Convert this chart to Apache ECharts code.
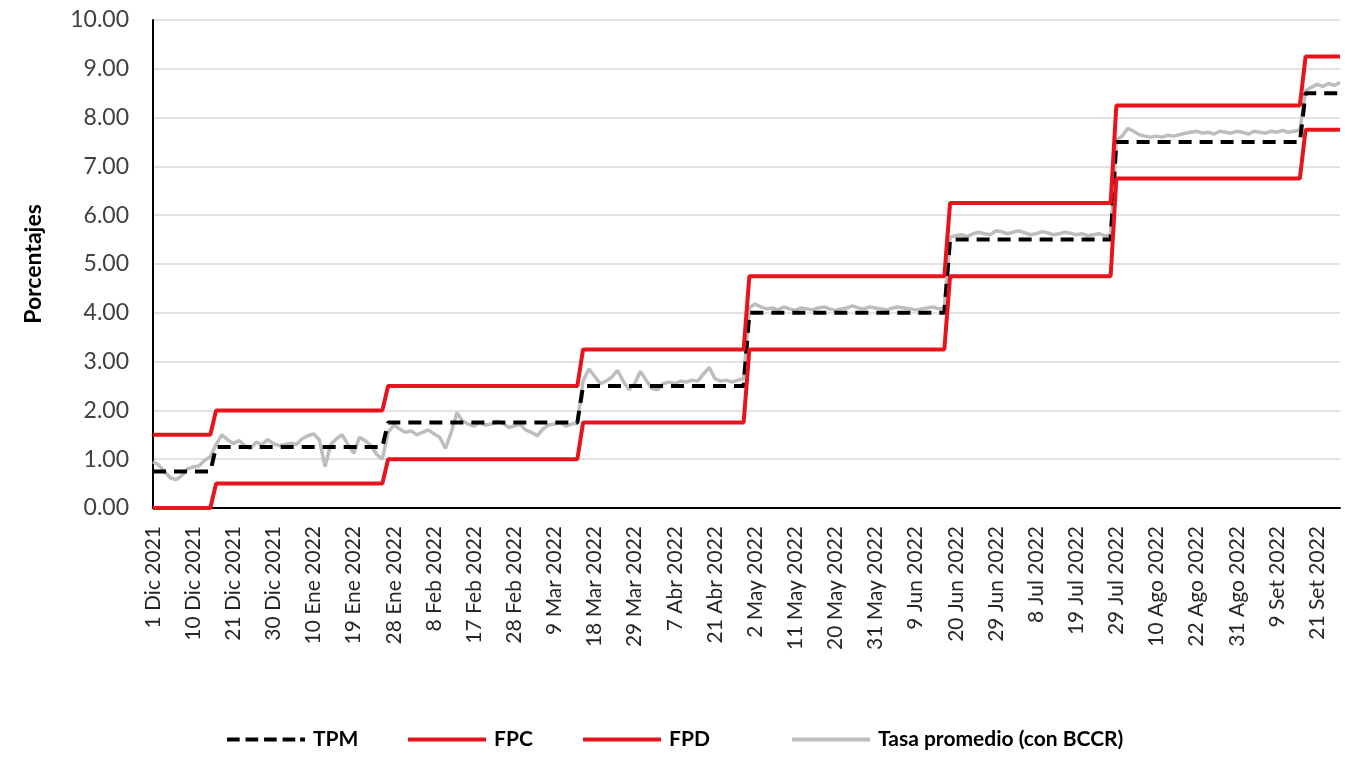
<!DOCTYPE html>
<html><head><meta charset="utf-8">
<script src="https://cdn.jsdelivr.net/npm/echarts/dist/echarts.min.js"></script>
<style>html,body{margin:0;padding:0;background:#fff}#c{width:1345px;height:761px}</style>
</head><body><div id="c"></div>
<script>
// Business days (categories) by month
const businessDays = [
  ["Dic 2021", [1,2,3,6,7,8,9,10,13,14,15,16,17,20,21,22,23,24,27,28,29,30,31]],
  ["Ene 2022", [3,4,5,6,7,10,11,12,13,14,17,18,19,20,21,24,25,26,27,28,31]],
  ["Feb 2022", [1,2,3,4,7,8,9,10,11,14,15,16,17,18,21,22,23,24,25,28]],
  ["Mar 2022", [1,2,3,4,7,8,9,10,11,14,15,16,17,18,21,22,23,24,25,28,29,30,31]],
  ["Abr 2022", [1,4,5,6,7,8,12,13,18,19,20,21,22,25,26,27,28,29]],
  ["May 2022", [2,3,4,5,6,9,10,11,12,13,16,17,18,19,20,23,24,25,26,27,30,31]],
  ["Jun 2022", [1,2,3,6,7,8,9,10,13,14,15,16,17,20,21,22,23,24,27,28,29,30]],
  ["Jul 2022", [1,4,5,6,7,8,11,12,13,14,15,18,19,20,21,22,26,27,28,29]],
  ["Ago 2022", [1,3,4,5,8,9,10,11,12,16,17,18,19,22,23,24,25,26,29,30,31]],
  ["Set 2022", [1,2,5,6,7,8,9,12,13,14,16,19,20,21,22,23,26,27]]
];
const categories = [];
businessDays.forEach(([m, days]) => days.forEach(d => categories.push(d + " " + m)));

// Policy rate regimes: start date of each level
const regimeStart = ["1 Dic 2021","16 Dic 2021","27 Ene 2022","16 Mar 2022","29 Abr 2022","17 Jun 2022","29 Jul 2022","19 Set 2022"];
const tpmLevels = [0.75, 1.25, 1.75, 2.50, 4.00, 5.50, 7.50, 8.50];
const fpcLevels = [1.50, 2.00, 2.50, 3.25, 4.75, 6.25, 8.25, 9.25];
const fpdLevels = [0.00, 0.50, 1.00, 1.75, 3.25, 4.75, 6.75, 7.75];

// Tasa promedio (con BCCR), one value per business day
const tasaPromedio = [
  0.95,0.88,0.75,0.62,0.58,0.66,0.80,0.84,0.86,0.98,1.05,
  1.30,1.50,1.40,1.32,1.38,1.28,1.22,1.35,1.30,1.40,1.32,1.28,1.30,1.33,1.30,1.42,1.48,1.52,1.40,0.85,1.30,1.42,1.50,1.30,1.12,1.45,1.38,1.28,1.10,1.00,
  1.55,1.70,1.62,1.55,1.58,1.50,1.55,1.60,1.52,1.45,1.22,1.55,1.95,1.78,1.72,1.68,1.75,1.70,1.72,1.78,1.74,1.65,1.68,1.72,1.60,1.55,1.48,1.62,1.70,1.72,1.75,1.68,1.72,1.74,
  2.60,2.85,2.70,2.55,2.60,2.68,2.82,2.60,2.42,2.55,2.80,2.62,2.45,2.42,2.55,2.58,2.55,2.60,2.58,2.62,2.60,2.75,2.88,2.65,2.60,2.62,2.58,2.62,2.65,
  4.10,4.18,4.12,4.08,4.10,4.06,4.12,4.08,4.05,4.10,4.08,4.06,4.10,4.12,4.08,4.05,4.08,4.10,4.14,4.10,4.08,4.12,4.10,4.08,4.06,4.10,4.12,4.10,4.08,4.06,4.08,4.10,4.12,4.08,4.10,
  5.55,5.58,5.60,5.56,5.62,5.65,5.62,5.60,5.68,5.66,5.62,5.65,5.68,5.64,5.60,5.62,5.66,5.64,5.60,5.62,5.65,5.63,5.60,5.62,5.58,5.60,5.62,5.58,5.60,
  7.55,7.62,7.78,7.72,7.65,7.62,7.60,7.62,7.60,7.64,7.62,7.65,7.68,7.70,7.72,7.68,7.70,7.66,7.72,7.70,7.68,7.72,7.70,7.66,7.72,7.70,7.68,7.72,7.70,7.74,7.70,7.72,7.74,
  8.55,8.62,8.68,8.64,8.70,8.66,8.72
];

const yTicks = [0,1,2,3,4,5,6,7,8,9,10];
const seriesNames = ['TPM', 'FPC', 'FPD', 'Tasa promedio (con BCCR)'];

// build step series from regimes
const startIdx = regimeStart.map(d => categories.indexOf(d));
function stepSeries(levels) {
  return categories.map((c, i) => {
    let k = 0;
    for (let j = 0; j < startIdx.length; j++) if (i >= startIdx[j]) k = j;
    return levels[k];
  });
}
const tpm = stepSeries(tpmLevels);
const fpc = stepSeries(fpcLevels);
const fpd = stepSeries(fpdLevels);

const FONT = 'Lato';
const RED = '#E8141C';
const GRAY = '#BDBDBD';
const dashIcon = 'path://M0,0h13v4h-13z M19,0h13v4h-13z M38,0h13v4h-13z M57,0h13v4h-13z M75,0h5v4h-5z';
const solidIcon = 'path://M0,0h80v4h-80z';
const legendLeft = [222, 403, 578, 787];
const legendIcons = [dashIcon, solidIcon, solidIcon, solidIcon];
const legends = seriesNames.map((n, i) => ({
  bottom: 6, left: legendLeft[i],
  itemWidth: 78, itemHeight: 4, itemGap: 0,
  textStyle: {fontFamily: FONT, fontWeight: 'bold', fontSize: 21, color: '#000', padding: [0, 0, 0, 3]},
  data: [{name: n, icon: legendIcons[i]}]
}));

const chart = echarts.init(document.getElementById('c'), null, {renderer: 'canvas'});
chart.setOption({
  animation: false,
  backgroundColor: '#ffffff',
  grid: {left: 153, right: 5, top: 20, bottom: 253, containLabel: false},
  legend: legends,
  xAxis: {
    type: 'category', data: categories, boundaryGap: false,
    axisLine: {lineStyle: {color: '#000', width: 2}},
    axisTick: {show: false},
    axisLabel: {interval: 6, rotate: 90, margin: 18, fontFamily: FONT, fontSize: 21, color: '#262626'},
    splitLine: {show: false}
  },
  yAxis: {
    type: 'value', min: yTicks[0], max: yTicks[yTicks.length - 1], interval: 1,
    name: 'Porcentajes', nameLocation: 'middle', nameGap: 108, nameRotate: 90,
    nameTextStyle: {fontFamily: FONT, fontWeight: 'bold', fontSize: 23, color: '#000'},
    axisLine: {show: true, lineStyle: {color: '#000', width: 2}},
    axisTick: {show: false},
    axisLabel: {margin: 24, fontFamily: FONT, fontSize: 23, color: '#404040', formatter: v => v.toFixed(2)},
    splitLine: {lineStyle: {color: '#D9D9D9', width: 1.5}}
  },
  series: [
    {name: seriesNames[0], type: 'line', data: tpm, showSymbol: false, symbol: 'none', z: 4,
     lineStyle: {color: '#000', width: 4, type: [13, 8]}, itemStyle: {color: '#000'}},
    {name: seriesNames[1], type: 'line', data: fpc, showSymbol: false, symbol: 'none', z: 5,
     lineStyle: {color: RED, width: 4}, itemStyle: {color: RED}},
    {name: seriesNames[2], type: 'line', data: fpd, showSymbol: false, symbol: 'none', z: 5,
     lineStyle: {color: RED, width: 4}, itemStyle: {color: RED}},
    {name: seriesNames[3], type: 'line', data: tasaPromedio, showSymbol: false, symbol: 'none', z: 3,
     lineStyle: {color: GRAY, width: 3.5}, itemStyle: {color: GRAY}}
  ]
});
</script></body></html>
